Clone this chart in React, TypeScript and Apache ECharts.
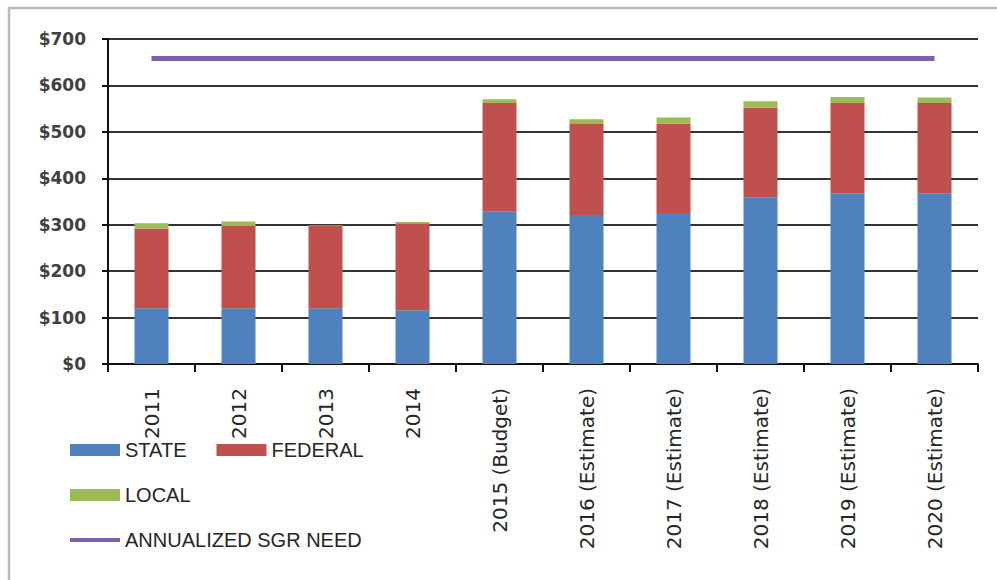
import React, { useEffect, useRef } from "react";
import * as echarts from "echarts";

const categories = [
  "2011",
  "2012",
  "2013",
  "2014",
  "2015 (Budget)",
  "2016 (Estimate)",
  "2017 (Estimate)",
  "2018 (Estimate)",
  "2019 (Estimate)",
  "2020 (Estimate)",
];
const stateValues = [120, 120, 120, 116, 328, 321, 325, 359, 368, 368];
const federalValues = [172, 177, 177, 187, 234, 196, 193, 193, 194, 194];
const localValues = [11, 10, 2, 3, 8, 10, 13, 14, 13, 12];
const sgrNeed = [658, 658, 658, 658, 658, 658, 658, 658, 658, 658];
const yTicks = [0, 100, 200, 300, 400, 500, 600, 700];

export default function App() {
  const ref = useRef<HTMLDivElement>(null);
  useEffect(() => {
    if (!ref.current) return;
    const chart = echarts.init(ref.current, null, { renderer: "svg" });
    const legendText = {
      fontFamily: "Liberation Sans",
      fontSize: 20,
      color: "#262626",
      lineHeight: 22,
    };
    chart.setOption({
      animation: false,
      backgroundColor: "#ffffff",
      grid: { left: 108, right: 19, top: 39, bottom: 216, containLabel: false },
      graphic: [
        {
          type: "polyline",
          shape: { points: [[9, 580], [9, 8], [997, 8]] },
          style: { stroke: "#b8b8b8", lineWidth: 2.5, fill: "none" },
          silent: true,
        },
      ],
      legend: [
        {
          data: ["STATE", "FEDERAL"],
          left: 70,
          top: 439,
          padding: 0,
          itemWidth: 50,
          itemHeight: 12,
          itemGap: 30,
          icon: "rect",
          textStyle: legendText,
        },
        {
          data: ["LOCAL"],
          left: 70,
          top: 484,
          padding: 0,
          itemWidth: 50,
          itemHeight: 12,
          icon: "rect",
          textStyle: legendText,
        },
        {
          data: ["ANNUALIZED SGR NEED"],
          left: 70,
          top: 529,
          padding: 0,
          itemWidth: 50,
          itemHeight: 4,
          icon: "rect",
          textStyle: legendText,
        },
      ],
      xAxis: {
        type: "category",
        data: categories,
        axisLine: { lineStyle: { color: "#111", width: 2 } },
        axisTick: { show: true, length: 8, lineStyle: { color: "#111", width: 2 } },
        axisLabel: {
          interval: 0,
          rotate: 90,
          margin: 24,
          fontFamily: "DejaVu Sans",
          fontSize: 20,
          color: "#262626",
        },
      },
      yAxis: {
        type: "value",
        min: yTicks[0],
        max: yTicks[yTicks.length - 1],
        interval: 100,
        axisLine: { show: true, lineStyle: { color: "#111", width: 2 } },
        axisTick: { show: true, length: 6, lineStyle: { color: "#111", width: 2 } },
        splitLine: { show: true, lineStyle: { color: "#333", width: 2 } },
        axisLabel: {
          margin: 22,
          fontFamily: "DejaVu Sans",
          fontWeight: "bold",
          fontSize: 17,
          color: "#404040",
          formatter: (v: number) => "$" + v,
        },
      },
      series: [
        {
          name: "STATE",
          type: "bar",
          stack: "total",
          barWidth: 34,
          itemStyle: { color: "#4F81BD" },
          data: stateValues,
        },
        {
          name: "FEDERAL",
          type: "bar",
          stack: "total",
          barWidth: 34,
          itemStyle: { color: "#C0504D" },
          data: federalValues,
        },
        {
          name: "LOCAL",
          type: "bar",
          stack: "total",
          barWidth: 34,
          itemStyle: { color: "#9BBB59" },
          data: localValues,
        },
        {
          name: "ANNUALIZED SGR NEED",
          type: "line",
          symbol: "none",
          itemStyle: { color: "#7F5FA8" },
          lineStyle: { color: "#7F5FA8", width: 5 },
          data: sgrNeed,
        },
      ],
    });
    return () => chart.dispose();
  }, []);
  return (
    <div
      ref={ref}
      style={{ position: "absolute", left: 0, top: 0, width: 997, height: 580 }}
    />
  );
}
